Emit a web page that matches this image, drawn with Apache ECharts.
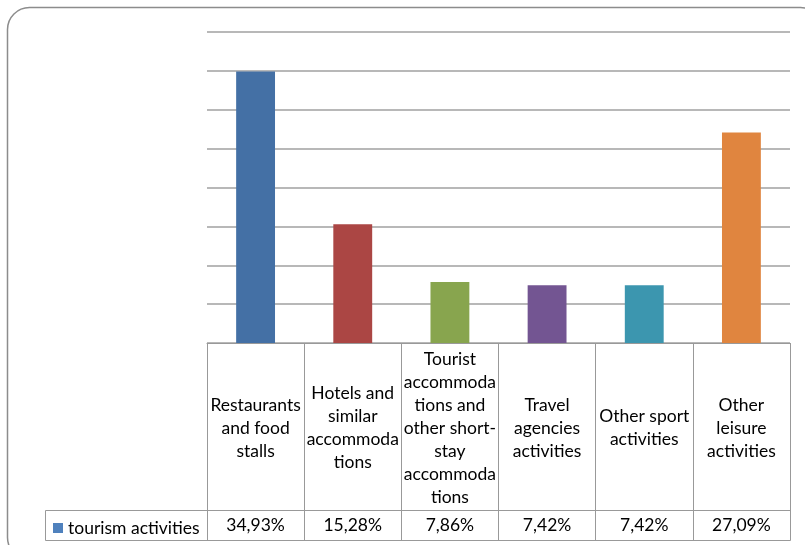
<!DOCTYPE html>
<html>
<head>
<meta charset="utf-8">
<script src="https://cdn.jsdelivr.net/npm/echarts@6/dist/echarts.min.js"></script>
<style>
html,body{margin:0;padding:0;background:#fff;}
#chart{width:805px;height:545px;}
</style>
</head>
<body>
<div id="chart"></div>
<script>
var categories = [
  'Restaurants\nand food\nstalls',
  'Hotels and\nsimilar\naccommoda\ntions',
  'Tourist\naccommoda\ntions and\nother short-\nstay\naccommoda\ntions',
  'Travel\nagencies\nactivities',
  'Other sport\nactivities',
  'Other\nleisure\nactivities'
];
var seriesName = 'tourism activities';
var values = [34.93, 15.28, 7.86, 7.42, 7.42, 27.09];
var barColors = ['#4470A5', '#AB4644', '#88A54E', '#735592', '#3C96AF', '#E0853F'];
var valueLabels = values.map(function (v) { return v.toFixed(2).replace('.', ',') + '%'; });

var FONT = 'Lato';
var FS = 17.5;
var lineCol = '#999999';

var chart = echarts.init(document.getElementById('chart'), null, {renderer: 'canvas'});
chart.setOption({
  animation: false,
  backgroundColor: '#ffffff',
  textStyle: {fontFamily: FONT},
  grid: {left: 207, right: 15, top: 32, bottom: 202, containLabel: false},
  legend: {
    data: [seriesName],
    left: 48, top: 514,
    icon: 'rect', itemWidth: 10, itemHeight: 10, itemGap: 5,
    textStyle: {fontFamily: FONT, fontSize: FS, color: '#000'}
  },
  xAxis: [{
    type: 'category',
    data: categories,
    position: 'bottom',
    axisLine: {show: true, lineStyle: {color: lineCol, width: 1}},
    axisTick: {show: true, interval: 0, length: 197, lineStyle: {color: lineCol, width: 1}},
    axisLabel: {
      interval: 0, margin: 85, verticalAlign: 'middle', align: 'center',
      lineHeight: 23, fontSize: FS, color: '#000', fontFamily: FONT
    },
    splitLine: {show: false}
  }, {
    type: 'category',
    data: valueLabels,
    position: 'bottom',
    offset: 167,
    axisLine: {show: true, lineStyle: {color: lineCol, width: 1}},
    axisTick: {show: false},
    axisLabel: {interval: 0, margin: 15, verticalAlign: 'middle', fontSize: FS, color: '#000', fontFamily: FONT}
  }],
  yAxis: {
    type: 'value', min: 0, max: 40, interval: 5,
    axisLine: {show: false}, axisTick: {show: false}, axisLabel: {show: false},
    splitLine: {show: true, lineStyle: {color: '#a0a0a0', width: 1.5}}
  },
  series: [{
    name: seriesName,
    type: 'bar',
    xAxisIndex: 0,
    barWidth: '40%',
    itemStyle: {color: '#4F81BD'},
    data: values.map(function (v, i) { return {value: v, itemStyle: {color: barColors[i]}}; })
  }],
  graphic: [
    {type: 'rect', shape: {x: 7.5, y: 7.5, width: 815, height: 552, r: 22},
     style: {fill: null, stroke: '#8c8c8c', lineWidth: 1.5}, z: -10, silent: true},
    {type: 'rect', shape: {x: 45.5, y: 510.5, width: 745, height: 30},
     style: {fill: null, stroke: lineCol, lineWidth: 1}, z: 5, silent: true}
  ]
});
</script>
</body>
</html>
